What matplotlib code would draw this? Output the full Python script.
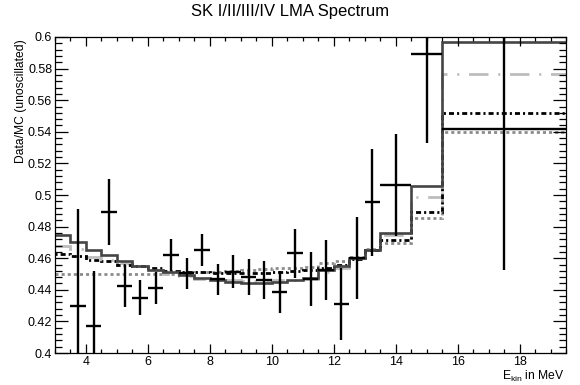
import matplotlib
matplotlib.use('Agg')
import matplotlib.pyplot as plt
from matplotlib.ticker import MultipleLocator, FuncFormatter

plt.rcParams['font.family'] = ['Liberation Sans', 'DejaVu Sans']
plt.rcParams['lines.scale_dashes'] = False

# bin edges of the model histograms (MeV)
edges = [3.0, 3.5, 4.0, 4.5, 5.0, 5.5, 6.0, 6.5, 7.0, 7.5, 8.0, 8.5, 9.0, 9.5,
         10.0, 10.5, 11.0, 11.5, 12.0, 12.5, 13.0, 13.5, 14.5, 15.5, 19.5]

# model curves (Data/MC unoscillated)
model_a = [0.475, 0.470, 0.4655, 0.462, 0.4585, 0.455, 0.4525, 0.451, 0.4494, 0.4473,
           0.4462, 0.445, 0.4445, 0.4445, 0.445, 0.4465, 0.4475, 0.4525, 0.455, 0.460,
           0.465, 0.476, 0.5055, 0.597]
model_b = [0.4675, 0.466, 0.461, 0.459, 0.4568, 0.455, 0.4525, 0.450, 0.4485, 0.447,
           0.4465, 0.446, 0.4455, 0.4455, 0.446, 0.4465, 0.447, 0.451, 0.454, 0.459,
           0.465, 0.4745, 0.499, 0.5764]
model_c = [0.4625, 0.4615, 0.459, 0.458, 0.456, 0.455, 0.4535, 0.452, 0.4515, 0.451,
           0.4505, 0.4505, 0.4505, 0.4505, 0.451, 0.452, 0.4525, 0.454, 0.456, 0.4595,
           0.465, 0.4715, 0.4894, 0.552]
model_d = [0.450, 0.450, 0.450, 0.450, 0.450, 0.450, 0.450, 0.450, 0.4505, 0.451,
           0.4515, 0.452, 0.4525, 0.453, 0.4535, 0.4536, 0.4546, 0.4567, 0.4582, 0.461,
           0.4658, 0.4694, 0.4856, 0.540]

# data points
data_x = [3.75, 4.25, 4.75, 5.25, 5.75, 6.25, 6.75, 7.25, 7.75, 8.25, 8.75, 9.25,
          9.75, 10.25, 10.75, 11.25, 11.75, 12.25, 12.75, 13.25, 14.0, 15.0, 17.5]
data_xerr = [0.25] * 20 + [0.5, 0.5, 2.0]
data_y = [0.430, 0.417, 0.4894, 0.4424, 0.435, 0.441, 0.462, 0.4504, 0.4652, 0.4466,
          0.4515, 0.448, 0.4462, 0.4386, 0.463, 0.447, 0.4525, 0.431, 0.460, 0.4954,
          0.5063, 0.5892, 0.5418]
data_yerr = [0.061, 0.035, 0.021, 0.013, 0.011, 0.010, 0.010, 0.010, 0.010, 0.010,
             0.0105, 0.0115, 0.012, 0.013, 0.0155, 0.017, 0.019, 0.0225, 0.026, 0.034,
             0.0325, 0.056, 0.089]

fig = plt.figure(figsize=(5.8, 3.85), dpi=100)
ax = fig.add_axes([0.0948, 0.0831, 0.8811, 0.8208])

ax.stairs(model_d, edges, baseline=None, color='#8c8c8c', linewidth=2.0,
          linestyle=(0, (2.2, 2.2)))
ax.stairs(model_b, edges, baseline=None, color='#bdbdbd', linewidth=2.0,
          linestyle=(0, (14, 7, 1.5, 7)))
ax.stairs(model_c, edges, baseline=None, color='black', linewidth=2.0,
          linestyle=(0, (1.5, 2.2, 3.6, 2.2)))
ax.stairs(model_a, edges, baseline=None, color='#454545', linewidth=1.9)

ax.errorbar(data_x, data_y, xerr=data_xerr, yerr=data_yerr, fmt='none',
            ecolor='black', elinewidth=1.7, capsize=0)

ax.set_xlim(3.0, 19.5)
ax.set_ylim(0.4, 0.6)

ax.xaxis.set_major_locator(MultipleLocator(2))
ax.xaxis.set_minor_locator(MultipleLocator(0.5))
ax.yaxis.set_major_locator(MultipleLocator(0.02))
ax.yaxis.set_minor_locator(MultipleLocator(0.004))
ax.yaxis.set_major_formatter(FuncFormatter(lambda v, p: ('%.2f' % v).rstrip('0').rstrip('.')))

ax.tick_params(axis='both', which='both', direction='in', top=True, right=True,
               labelsize=9, width=0.9, color='black')
ax.tick_params(axis='x', which='major', length=6.5, pad=2)
ax.tick_params(axis='x', which='minor', length=3.2)
ax.tick_params(axis='y', which='major', length=9.4, pad=2)
ax.tick_params(axis='y', which='minor', length=4.7)
for s in ax.spines.values():
    s.set_linewidth(0.9)

fig.text(0.5, 0.971, 'SK I/II/III/IV LMA Spectrum', ha='center', va='center', fontsize=12)
fig.text(0.036, 0.897, 'Data/MC (unoscillated)', rotation=90, ha='center', va='top',
         fontsize=8.7)
fig.text(0.974, 0.022, r'E$_{\mathregular{kin}}$ in MeV', ha='right', va='center',
         fontsize=8.7)

fig.savefig('out.png', dpi=100)
